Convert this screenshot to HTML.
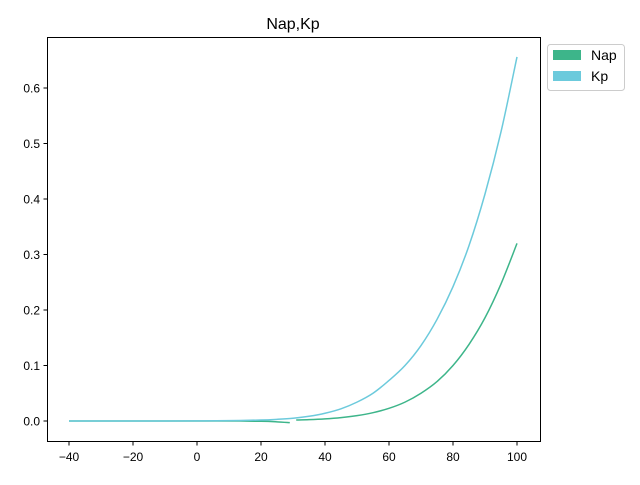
<!DOCTYPE html>
<html><head><meta charset="utf-8"><style>
body{margin:0;background:#fff;}
text{font-family:"Liberation Sans","DejaVu Sans",sans-serif;}
</style></head><body>
<svg id="chart" width="640" height="480" xmlns="http://www.w3.org/2000/svg">
<rect width="640" height="480" fill="#fff"/>
<text x="293" y="29" font-size="16" text-anchor="middle">Nap,Kp</text>
<g id="plot"></g>
<rect x="47.5" y="37.5" width="493" height="404" fill="none" stroke="#000" stroke-width="1"/>
<g>
<rect x="547.5" y="44.5" width="77" height="46" rx="3" fill="#fff" stroke="#ccc"/>
<rect x="553" y="50" width="28" height="10" fill="#3db58a"/>
<text x="591" y="60" font-size="14">Nap</text>
<rect x="553" y="71" width="28" height="10" fill="#6ccadc"/>
<text x="591" y="81" font-size="14">Kp</text>
</g>
</svg>
<script>
const xTicks=[-40,-20,0,20,40,60,80,100];
const yTicks=[0.0,0.1,0.2,0.3,0.4,0.5,0.6];
const yTickLabels=["0.0","0.1","0.2","0.3","0.4","0.5","0.6"];
const kpX=[-40,-30,-20,-10,0,10,20,25,30,35,40,45,50,55,60,65,70,75,80,85,90,95,100];
const kpY=[0,0,0,0,0.0002,0.0006,0.0017,0.003,0.005,0.0085,0.014,0.022,0.034,0.05,0.073,0.100,0.136,0.183,0.242,0.316,0.409,0.521,0.656];
const napX1=[-40,-30,-20,-10,0,10,20,25,29];
const napY1=[0,0,0,0,0,0,-0.0005,-0.0015,-0.003];
const napX2=[31,35,40,45,50,55,60,65,70,75,80,85,90,95,100];
const napY2=[0.0018,0.0024,0.0038,0.0061,0.0097,0.015,0.0228,0.034,0.050,0.071,0.100,0.138,0.186,0.247,0.32];
const sx=v=>69+(v+40)*3.2;
const sy=v=>421-v*555;
const NS="http://www.w3.org/2000/svg";
const plot=document.getElementById('plot');
function mk(t,a){const e=document.createElementNS(NS,t);for(const k in a)e.setAttribute(k,a[k]);plot.appendChild(e);return e;}
xTicks.forEach(v=>{
 const l=mk('line',{x1:sx(v),x2:sx(v),y1:441.5,y2:445.5,stroke:'#000'});
 
 
 const t=mk('text',{x:sx(v),y:461,'font-size':12,'text-anchor':'middle'});
 t.textContent=v<0?'\u2212'+(-v):String(v);
 
 
});
yTicks.forEach((v,i)=>{
 const l=mk('line',{x1:43.5,x2:47.5,y1:sy(v),y2:sy(v),stroke:'#000'});
 
 
 const t=mk('text',{x:40,y:sy(v)+4.5,'font-size':12,'text-anchor':'end'});
 t.textContent=yTickLabels[i];
 
 
});
function path(xs,ys){
 const p=xs.map((x,i)=>[sx(x),sy(ys[i])]);
 let d='M'+p[0][0]+','+p[0][1];
 for(let i=0;i<p.length-1;i++){
  const p0=p[i-1]||p[i],p1=p[i],p2=p[i+1],p3=p[i+2]||p2;
  const c1=[p1[0]+(p2[0]-p0[0])/6,p1[1]+(p2[1]-p0[1])/6];
  const c2=[p2[0]-(p3[0]-p1[0])/6,p2[1]-(p3[1]-p1[1])/6];
  d+=' C'+c1+' '+c2+' '+p2;
 }
 return d;
}
const n1=mk('path',{d:path(napX1,napY1),fill:'none',stroke:'#3db58a','stroke-width':1.5});


const n2=mk('path',{d:path(napX2,napY2),fill:'none',stroke:'#3db58a','stroke-width':1.5});


const k=mk('path',{d:path(kpX,kpY),fill:'none',stroke:'#6ccadc','stroke-width':1.5});


</script>
</body></html>
